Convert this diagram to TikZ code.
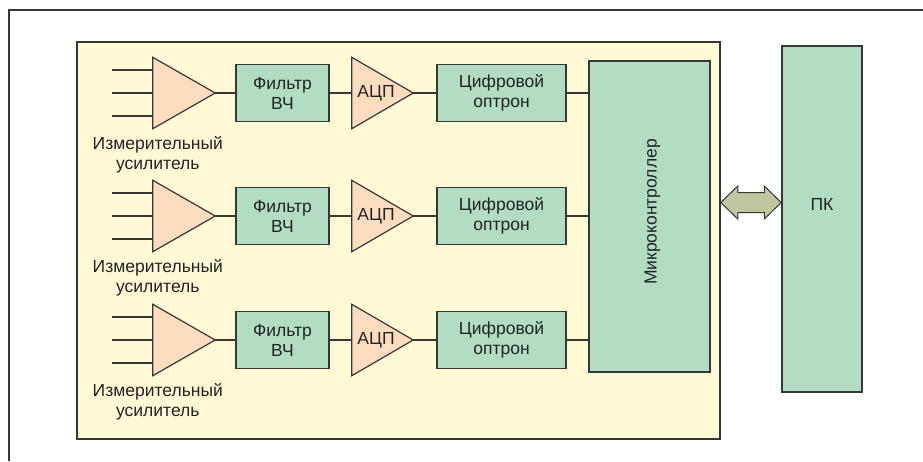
\documentclass[tikz,border=0pt]{standalone}
\usepackage{fontspec}
\setmainfont{Liberation Sans}
\usetikzlibrary{calc,positioning}
\definecolor{panelfill}{RGB}{255,249,214}
\definecolor{blockfill}{RGB}{178,221,195}
\definecolor{ampfill}{RGB}{253,220,192}
\definecolor{busfill}{RGB}{193,197,162}
\definecolor{ink}{RGB}{55,55,55}
\definecolor{textink}{RGB}{35,35,35}
\newcommand{\blocktext}{\fontsize{17.5}{20}\selectfont}
\tikzset{
  wire/.style={line width=1.3pt, ink},
  frame/.style={line width=1.3pt, ink},
  panelbox/.style={draw=ink, fill=panelfill, line width=1.5pt, inner sep=0pt,
                   minimum width=643pt, minimum height=397pt},
  gbox/.style={draw=ink, fill=blockfill, line width=1.3pt, inner sep=0pt,
               align=center, font=\blocktext, text=textink},
  tribox/.style={inner sep=0pt, minimum height=71pt},
  tri/.style={draw=ink, fill=ampfill, line width=1.2pt},
  capt/.style={font=\blocktext, align=center, text=textink, inner sep=0pt},
  bus/.style={draw=ink, fill=busfill, line width=1pt, line join=miter},
}

\begin{document}
\begin{tikzpicture}[x=1pt,y=-1pt]
  \useasboundingbox (0,0) rectangle (923,461);
  % ---- outer frame ----
  \draw[frame] (9,461) -- (9,10) -- (923,10);
  % ---- board ----
  \node[panelbox] (panel) at (398.5,240.5) {};
  \node[gbox, minimum width=121pt, minimum height=311pt,
        label={[capt, xshift=3pt, yshift=4.5pt, rotate=90]center:Микроконтроллер}] (mcu) at (649.5,216.5) {};
  % ---- three channels ----
  \foreach \r/\y in {1/93,2/216,3/340}{
    % amplifier
    \node[tribox, minimum width=62pt] (amp\r) at (184,\y) {};
    \draw[tri] (amp\r.north west) -- (amp\r.east) -- (amp\r.south west) -- cycle;
    \foreach \dy in {-23,0,23}{\draw[wire] (amp\r.west) ++(0,\dy) -- ++(-41,0);}
    \node[capt, anchor=base] (cap\r) at ($(amp\r.south west)+(5,40.5)$) {Измерительный\\усилитель};
    % filter
    \node[gbox, minimum width=93pt, minimum height=57pt] (flt\r) at (282.5,\y) {Фильтр\\ВЧ};
    % adc
    \node[tribox, minimum width=61pt] (adc\r) at (382.5,\y) {};
    \draw[tri] (adc\r.north west) -- (adc\r.east) -- (adc\r.south west) -- cycle;
    \node[capt] (adct\r) at ($(adc\r.center)+(-6.5,0)$) {АЦП};
    % optocoupler
    \node[gbox, minimum width=129pt, minimum height=57pt] (opt\r) at (501.5,\y) {Цифровой\\оптрон};
    \draw[wire] (amp\r.east) -- (flt\r.west);
    \draw[wire] (flt\r.east) -- (adc\r.west);
    \draw[wire] (adc\r.east) -- (opt\r.west);
    \draw[wire] (opt\r.east) -- (opt\r.east -| mcu.west);
  }
  % ---- PC + bus ----
  \node[gbox, minimum width=80pt, minimum height=346pt,
        label={[capt, yshift=15pt]center:ПК}] (pc) at (822,219) {};
  \draw[bus] (panel.east |- 0,202.5) -- ++(17,-16.5) -- ++(0,6.5) -- ++(26.5,0) -- ++(0,-6.5)
    -- ++(17,16.5) -- ++(-17,16.5) -- ++(0,-6.5) -- ++(-26.5,0) -- ++(0,6.5) -- cycle;
\end{tikzpicture}
\end{document}
